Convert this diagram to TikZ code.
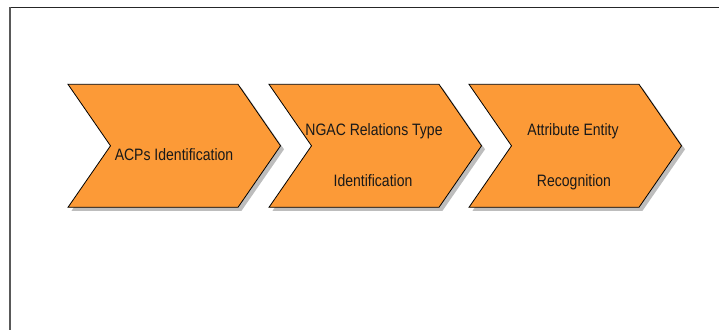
\documentclass[tikz,border=0pt]{standalone}
\usepackage{fontspec}
\setmainfont{Liberation Sans}[FakeStretch=0.85]
\definecolor{chevorange}{HTML}{FC9A37}
\definecolor{chevshadow}{HTML}{BDBDBD}
\begin{document}
\begin{tikzpicture}[x=1pt,y=-1pt,
  chev/.style={fill=chevorange,draw=black,line width=0.8pt,line join=miter},
  chevshade/.style={fill=chevshadow,draw=none},
  lbl/.style={font=\fontsize{16.5}{18}\selectfont,text=black!90,inner sep=0pt,anchor=base}]
  % canvas
  \useasboundingbox (0,0) rectangle (719,330);
  % outer frame (top and left edges)
  \draw[line width=1.6pt,black!85] (9,7.6) -- (719,7.6);
  \draw[line width=1.8pt,black!65] (9.8,7) -- (9.8,330);
  % process chevrons with drop shadows
  \foreach \x in {68,269,469}{
    \fill[chevshade] (\x+3.5,87.8) -- ++(170,0) -- ++(42.5,61.5) -- ++(-42.5,61.5)
      -- ++(-170,0) -- ++(42.5,-61.5) -- cycle;
    \draw[chev] (\x,84.3) -- ++(170,0) -- ++(42.5,61.5) -- ++(-42.5,61.5)
      -- ++(-170,0) -- ++(42.5,-61.5) -- cycle;
  }
  % step labels
  \node[lbl] (acps) at (174,160.7) {ACPs Identification};
  \node[lbl] (ngac1) at (374,135) {NGAC Relations Type};
  \node[lbl] (ngac2) at (373,186.7) {Identification};
  \node[lbl] (attr1) at (573,135) {Attribute Entity};
  \node[lbl] (attr2) at (574,186.7) {Recognition};
\end{tikzpicture}
\end{document}
